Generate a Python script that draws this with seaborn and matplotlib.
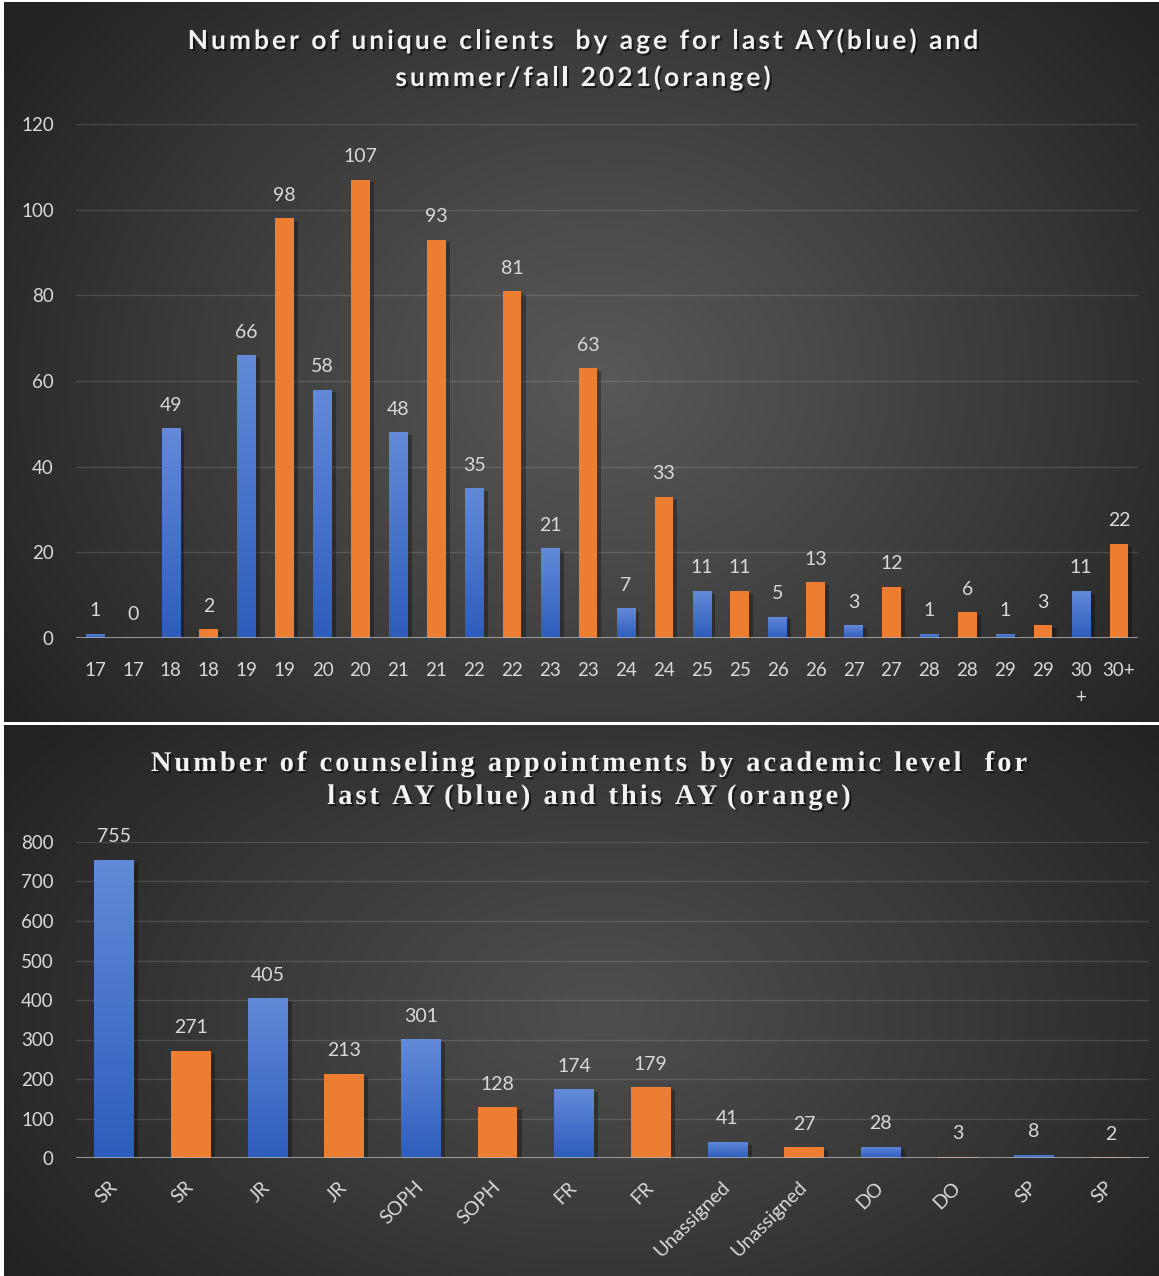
import numpy as np
import pandas as pd
import matplotlib
matplotlib.use("Agg")
import matplotlib.pyplot as plt
import matplotlib.patheffects as pe
from matplotlib.font_manager import FontProperties
from matplotlib.textpath import TextToPath
import seaborn as sns

# ---------------- data ----------------
age_labels = ["17", "17", "18", "18", "19", "19", "20", "20", "21", "21",
              "22", "22", "23", "23", "24", "24", "25", "25", "26", "26",
              "27", "27", "28", "28", "29", "29", "30\n+", "30+"]
age_last_ay = [1, 49, 66, 58, 48, 35, 21, 7, 11, 5, 3, 1, 1, 11]
age_fall_2021 = [0, 2, 98, 107, 93, 81, 63, 33, 11, 13, 12, 6, 3, 22]

level_labels = ["SR", "SR", "JR", "JR", "SOPH", "SOPH", "FR", "FR",
                "Unassigned", "Unassigned", "DO", "DO", "SP", "SP"]
level_last_ay = [755, 405, 301, 174, 41, 28, 8]
level_this_ay = [271, 213, 128, 179, 27, 3, 2]

title_top = ["Number of unique clients  by age for last AY(blue) and",
             "summer/fall 2021(orange)"]
title_bottom = ["Number of counseling appointments by academic level  for",
                "last AY (blue) and this AY (orange)"]

BLUE_TOP = np.array([0x62, 0x8A, 0xD8]) / 255
BLUE_BOT = np.array([0x2D, 0x5D, 0xBC]) / 255
BLUE = "#4472C4"
ORANGE = "#ED7D31"
LABEL_C = "#D9D9D9"

W, H, DPI = 1159, 1276, 100
fig = plt.figure(figsize=(W / DPI, H / DPI), dpi=DPI)
fig.patch.set_facecolor("white")

sns.set_style("dark")
plt.rcParams["font.family"] = ["Lato", "DejaVu Sans"]


def fx(px):
    return px / W


def fy(py):
    return 1 - py / H


# ---------------- panel backgrounds ----------------
bg = fig.add_axes([0, 0, 1, 1], zorder=-10)
bg.set_xlim(0, W)
bg.set_ylim(H, 0)
bg.axis("off")


def panel(x0, y0, x1, y1, cx, cy, inner, outer):
    xs = np.linspace(x0, x1, 400)
    ys = np.linspace(y0, y1, 300)
    X, Y = np.meshgrid(xs, ys)
    R = np.hypot((X - cx) / (x1 - x0) * 1.0, (Y - cy) / (y1 - y0) * 0.75)
    t = np.clip(R / 0.62, 0, 1) ** 1.1
    v = inner + (outer - inner) * t
    img = np.dstack([v, v, v])
    bg.imshow(img, extent=[x0, x1, y1, y0], aspect="auto", interpolation="bilinear")


panel(4, 2, W, 722, 600, 380, 0x58 / 255, 0x22 / 255)
panel(4, 725, W, H, 600, 1010, 0x4E / 255, 0x22 / 255)
bg.set_xlim(0, W)
bg.set_ylim(H, 0)


# ---------------- helpers ----------------
def grad_bars(ax, color_key):
    for p in ax.patches:
        p.set_edgecolor("none")
        p.set_linewidth(0)
        fc = p.get_facecolor()
        if np.allclose(fc[:3], matplotlib.colors.to_rgb(color_key), atol=0.02):
            x, y = p.get_x(), p.get_y()
            w, h = p.get_width(), p.get_height()
            if h > 0:
                n = 64
                tvals = np.linspace(0, 1, n)[:, None]
                col = BLUE_TOP * (1 - tvals) + BLUE_BOT * tvals
                img = np.repeat(col[:, None, :], 2, axis=1)
                im = ax.imshow(img, extent=[x, x + w, y, y + h], aspect="auto",
                               origin="upper", zorder=p.get_zorder() + 0.1,
                               interpolation="bilinear")
                im.set_clip_path(p)
        p.set_path_effects([pe.SimplePatchShadow(offset=(3, -2), shadow_rgbFace="black",
                                                 alpha=0.3), pe.Normal()])


def style_axes(ax, ymax, step):
    ax.set_facecolor("none")
    ax.set_ylim(0, ymax)
    ax.set_yticks(np.arange(0, ymax + 1, step))
    ax.grid(axis="y", color="white", alpha=0.13, lw=1.0)
    ax.grid(axis="x", visible=False)
    for s in ax.spines.values():
        s.set_visible(False)
    ax.axhline(0, color="#B8B8B8", lw=2.2, alpha=0.75, zorder=5)
    ax.tick_params(axis="both", length=0, colors=LABEL_C, labelsize=13.5)
    ax.tick_params(axis="y", pad=16)
    ax.set_xlabel("")
    ax.set_ylabel("")


def value_labels(ax, slots, values, off_px=23):
    for s, v in zip(slots, values):
        ax.annotate(str(v), (s, v), xytext=(0, off_px * 72 / DPI),
                    textcoords="offset points", ha="center", va="center",
                    color=LABEL_C, fontsize=14)


ttp = TextToPath()


def spaced_title(lines, baselines, cx, prop, track):
    def width(s):
        w, _, _ = ttp.get_text_width_height_descent(s, prop, ismath=False)
        return w * DPI / 72

    ref = width("x")
    for text, base in zip(lines, baselines):
        offs = [width(text[:i] + "x") - ref + i * track for i in range(len(text))]
        total = offs[-1] + width(text[-1])
        x0 = cx - total / 2
        for c, o in zip(text, offs):
            if c == " ":
                continue
            fig.text(fx(x0 + o), fy(base), c, fontproperties=prop, color="#F2F2F2",
                     ha="left", va="baseline",
                     path_effects=[pe.withSimplePatchShadow(offset=(1.5, -1.5),
                                                           shadow_rgbFace="black",
                                                           alpha=0.55)])


def interleave(a, b):
    out = []
    for x, y in zip(a, b):
        out += [x, y]
    return out


# ---------------- top chart: clients by age ----------------
ax1 = fig.add_axes([fx(76), fy(638), fx(1138) - fx(76), fy(124) - fy(638)])
top_vals = interleave(age_last_ay, age_fall_2021)
top_series = interleave(["Last AY"] * len(age_last_ay), ["Summer/Fall 2021"] * len(age_fall_2021))
df_top = pd.DataFrame({"slot": np.arange(len(top_vals)), "value": top_vals, "series": top_series})
sns.barplot(data=df_top, x="slot", y="value", hue="series", dodge=False, width=0.49,
            palette={"Last AY": BLUE, "Summer/Fall 2021": ORANGE}, saturation=1,
            legend=False, linewidth=0, edgecolor="none", ax=ax1)
style_axes(ax1, 120, 20)
grad_bars(ax1, BLUE)
ax1.set_xlim(-0.5, len(top_vals) - 0.5)
ax1.set_ylim(0, 120)
ax1.set_xticks(np.arange(len(top_vals)))
ax1.set_xticklabels(age_labels, linespacing=1.75, va="top")
ax1.tick_params(axis="x", pad=17)
value_labels(ax1, df_top["slot"], df_top["value"])

# ---------------- bottom chart: appointments by level ----------------
ax2 = fig.add_axes([fx(76), fy(1158), fx(1149) - fx(76), fy(842) - fy(1158)])
bot_vals = interleave(level_last_ay, level_this_ay)
bot_series = interleave(["Last AY"] * len(level_last_ay), ["This AY"] * len(level_this_ay))
df_bot = pd.DataFrame({"slot": np.arange(len(bot_vals)), "value": bot_vals, "series": bot_series})
sns.barplot(data=df_bot, x="slot", y="value", hue="series", dodge=False, width=0.52,
            palette={"Last AY": BLUE, "This AY": ORANGE}, saturation=1,
            legend=False, linewidth=0, edgecolor="none", ax=ax2)
style_axes(ax2, 800, 100)
grad_bars(ax2, BLUE)
ax2.set_xlim(-0.5, len(bot_vals) - 0.5)
ax2.set_ylim(0, 800)
ax2.set_xticks(np.arange(len(bot_vals)))
ax2.set_xticklabels(level_labels, rotation=45, ha="right", va="center",
                    rotation_mode="anchor", fontsize=14)
ax2.tick_params(axis="x", pad=19)
value_labels(ax2, df_bot["slot"], df_bot["value"])

# ---------------- titles ----------------
prop_top = FontProperties(family="Lato", weight="bold", size=19)
spaced_title(title_top, [49, 86], 583, prop_top, 3.0)
prop_bot = FontProperties(family="Liberation Serif", weight="bold", size=20.5)
spaced_title(title_bottom, [771, 804], 589, prop_bot, 3.0)

fig.savefig("out.png", dpi=DPI, facecolor=fig.get_facecolor())
